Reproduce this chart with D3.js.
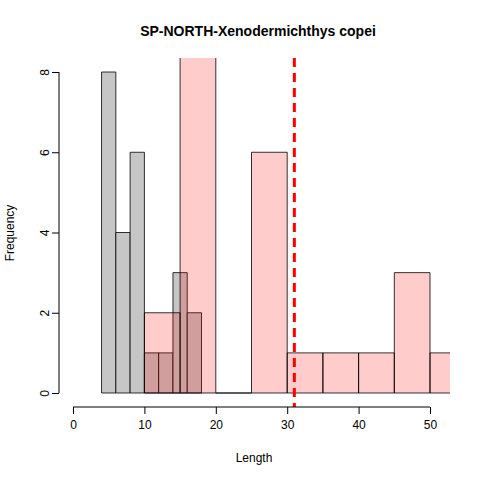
<!DOCTYPE html>
<html><head><meta charset="utf-8">
<script src="https://cdn.jsdelivr.net/npm/d3@7"></script>
<style>body{margin:0;background:#fff}text{font-family:Arial,"Liberation Sans",sans-serif}</style>
</head><body>
<svg id="chart" width="480" height="480"></svg>
<script>
// grey histogram: bin width 2
var greyBreaks = [4, 6, 8, 10, 12, 14, 16, 18];
var greyCounts = [8, 4, 6, 1, 1, 3, 2];
// pink histogram: bin width 5
var pinkBreaks = [10, 15, 20, 25, 30, 35, 40, 45, 50, 55];
var pinkCounts = [2, 9, 0, 6, 1, 1, 1, 3, 1];
var xTicks = [0, 10, 20, 30, 40, 50];
var yTicks = [0, 2, 4, 6, 8];
var meanLine = 31;

var svg = d3.select('svg#chart');
var x = d3.scaleLinear().domain([0, 50]).range([73, 430]);
var y = d3.scaleLinear().domain([0, 8]).range([393, 72]);

svg.append('clipPath').attr('id', 'plotclip')
  .append('rect').attr('x', 59).attr('y', 58).attr('width', 391).attr('height', 349);

var plot = svg.append('g').attr('clip-path', 'url(#plotclip)');

function bins(breaks, counts) {
  return counts.map(function (c, i) { return {x0: breaks[i], x1: breaks[i + 1], n: c}; });
}

// draw bars as paths so zero-height bins still show a line
function barPath(d) {
  return 'M' + x(d.x0) + ',' + y(0) + 'V' + y(d.n) + 'H' + x(d.x1) + 'V' + y(0) + 'Z';
}

plot.selectAll('path.grey').data(bins(greyBreaks, greyCounts)).enter().append('path')
  .attr('d', barPath)
  .attr('fill', '#c6c6c6').attr('stroke', '#000').attr('stroke-width', 0.8);

plot.selectAll('path.pink').data(bins(pinkBreaks, pinkCounts)).enter().append('path')
  .attr('d', barPath)
  .attr('fill', 'rgba(255,0,0,0.2)').attr('stroke', '#000').attr('stroke-width', 0.8);

plot.append('line')
  .attr('x1', x(meanLine)).attr('x2', x(meanLine)).attr('y1', 58).attr('y2', 407)
  .attr('stroke', '#ff0000').attr('stroke-width', 3).attr('stroke-dasharray', '9,6');

var xAxis = svg.append('g').attr('transform', 'translate(0,407)')
  .call(d3.axisBottom(x).tickValues(xTicks).tickSize(7).tickPadding(6));
var yAxis = svg.append('g').attr('transform', 'translate(59,0)')
  .call(d3.axisLeft(y).tickValues(yTicks).tickSize(7).tickPadding(4));
[xAxis, yAxis].forEach(function (a) {
  a.select('.domain').attr('stroke', '#000');
  a.selectAll('text').attr('font-size', 12).attr('fill', '#000');
});
xAxis.select('.domain').attr('d', 'M' + x(0) + ',0H' + x(50));
yAxis.select('.domain').attr('d', 'M0,' + y(0) + 'V' + y(8));
yAxis.selectAll('.tick text').attr('transform', 'rotate(-90)').attr('x', 0).attr('y', -14)
  .attr('dy', '0.35em').style('text-anchor', 'middle');

svg.append('text').attr('x', 258).attr('y', 36).attr('text-anchor', 'middle')
  .attr('font-size', 14).attr('font-weight', 'bold').text('SP-NORTH-Xenodermichthys copei');
svg.append('text').attr('x', 254).attr('y', 462).attr('text-anchor', 'middle')
  .attr('font-size', 12).text('Length');
svg.append('text').attr('transform', 'translate(14,233) rotate(-90)').attr('text-anchor', 'middle')
  .attr('font-size', 12).text('Frequency');
</script>
</body></html>
